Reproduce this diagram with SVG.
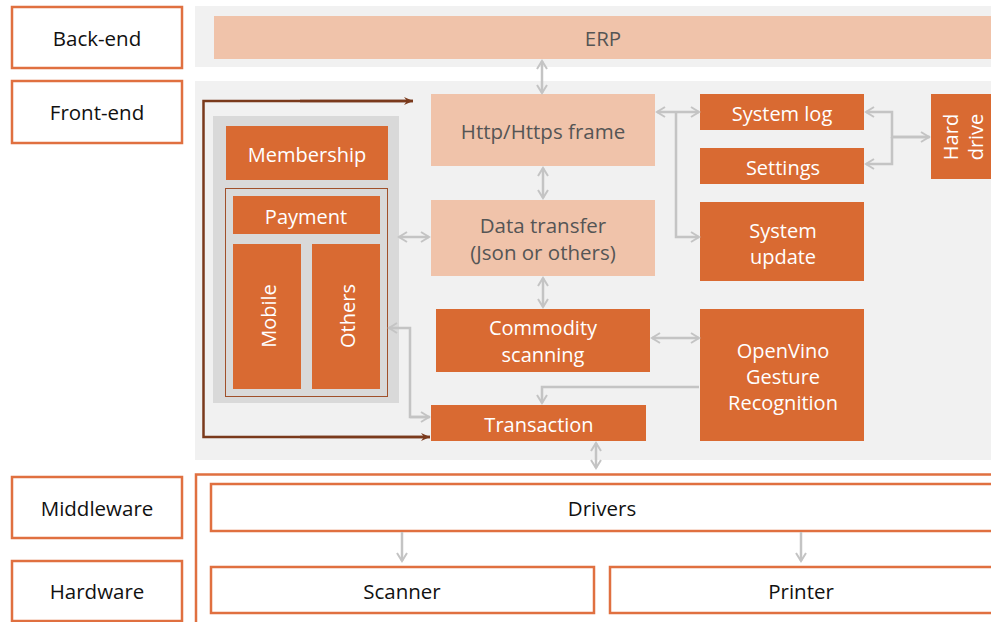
<svg xmlns="http://www.w3.org/2000/svg" width="991" height="622" viewBox="0 0 991 622">
<defs>
<marker id="ag" markerWidth="12" markerHeight="12" refX="9" refY="6" orient="auto-start-reverse" markerUnits="userSpaceOnUse">
<path d="M1,1 L9,6 L1,11" fill="none" stroke="#c4c4c4" stroke-width="2"/>
</marker>
<marker id="ab" markerWidth="12" markerHeight="10" refX="10" refY="5" orient="auto" markerUnits="userSpaceOnUse">
<path d="M1,1 L10,5 L1,9 L4,5 Z" fill="#7a3a1c"/>
</marker>
<style>
text{font-family:"Open Sans","Liberation Sans",sans-serif;text-anchor:middle;dominant-baseline:central}
.lbl{fill:#fff;stroke:#e07040;stroke-width:2.5}
.lt{font-size:20.5px;fill:#111}
.dk{fill:#d96a32}
.pe{fill:#f0c3aa}
.wt{font-size:20px;fill:#fff}
.gt{font-size:20.5px;fill:#555}
.ob{fill:#fff;stroke:#e07040;stroke-width:2.5}
.cg{fill:none;stroke:#c4c4c4;stroke-width:2.5}
</style>
</defs>
<g id="layers">
<rect class="lbl" x="12" y="7" width="170" height="61"/>
<text class="lt" x="97" y="38">Back-end</text>
<rect class="lbl" x="12" y="81" width="170" height="62"/>
<text class="lt" x="97" y="112">Front-end</text>
<rect class="lbl" x="12" y="477" width="170" height="61"/>
<text class="lt" x="97" y="508">Middleware</text>
<rect class="lbl" x="12" y="561" width="170" height="60"/>
<text class="lt" x="97" y="591">Hardware</text>
</g>
<rect x="195" y="6" width="796" height="61" fill="#f1f1f1"/>
<rect x="195" y="81" width="796" height="379" fill="#f1f1f1"/>
<g id="erp"><rect class="pe" x="214" y="16" width="777" height="43"/><text class="gt" x="603" y="38">ERP</text></g>
<g id="panel">
<rect x="213" y="116" width="186" height="287" fill="#d9d9d9"/>
</g>
<g id="membership"><rect class="dk" x="226" y="126" width="162" height="54"/><text class="wt" x="307" y="154">Membership</text></g>
<g id="payment-group"><rect x="225.5" y="188.5" width="162" height="208" fill="none" stroke="#a0502a" stroke-width="1"/></g>
<g id="payment"><rect class="dk" x="233" y="196" width="147" height="38"/><text class="wt" x="306" y="216">Payment</text></g>
<g id="mobile"><rect class="dk" x="233" y="244" width="68" height="145"/><text class="wt" transform="translate(268,316) rotate(-90)">Mobile</text></g>
<g id="others"><rect class="dk" x="312" y="244" width="68" height="145"/><text class="wt" transform="translate(347,316) rotate(-90)">Others</text></g>
<g id="http"><rect class="pe" x="431" y="94" width="224" height="72"/><text class="gt" x="543" y="131">Http/Https frame</text></g>
<g id="data"><rect class="pe" x="431" y="200" width="224" height="76"/><text class="gt" x="543" y="225">Data transfer</text><text class="gt" x="543" y="252">(Json or others)</text></g>
<g id="commodity"><rect class="dk" x="436" y="309" width="214" height="63"/><text class="wt" x="543" y="327">Commodity</text><text class="wt" x="543" y="354">scanning</text></g>
<g id="transaction"><rect class="dk" x="431" y="405" width="215" height="36"/><text class="wt" x="539" y="424">Transaction</text></g>
<g id="openvino"><rect class="dk" x="700" y="309" width="164" height="132"/><text class="wt" x="783" y="350">OpenVino</text><text class="wt" x="783" y="376">Gesture</text><text class="wt" x="783" y="402">Recognition</text></g>
<g id="syslog"><rect class="dk" x="700" y="94" width="164" height="36"/><text class="wt" x="782" y="113">System log</text></g>
<g id="settings"><rect class="dk" x="700" y="148" width="164" height="36"/><text class="wt" x="783" y="167">Settings</text></g>
<g id="sysupdate"><rect class="dk" x="700" y="202" width="164" height="79"/><text class="wt" x="783" y="230">System</text><text class="wt" x="783" y="256">update</text></g>
<g id="harddrive"><rect class="dk" x="931" y="94" width="60" height="85"/><text class="wt" transform="translate(950,137) rotate(-90)">Hard</text><text class="wt" transform="translate(975,137) rotate(-90)">drive</text></g>
<rect class="ob" x="196" y="474.5" width="800" height="150"/>
<g id="drivers"><rect class="ob" x="211" y="484" width="785" height="47"/><text class="lt" x="602" y="508">Drivers</text></g>
<g id="scanner"><rect class="ob" x="211" y="567" width="383" height="46"/><text class="lt" x="402" y="591">Scanner</text></g>
<g id="printer"><rect class="ob" x="610" y="567" width="386" height="46"/><text class="lt" x="801" y="591">Printer</text></g>
<g id="connectors">
<path d="M413,101 H203.5 V437 H430" fill="none" stroke="#7a3a1c" stroke-width="2.5"/>
<path d="M300,101 H413" fill="none" stroke="#7a3a1c" stroke-width="2.5" marker-end="url(#ab)"/>
<path d="M300,437 H430" fill="none" stroke="#7a3a1c" stroke-width="2.5" marker-end="url(#ab)"/>
<path class="cg" d="M542,61 V93" marker-start="url(#ag)" marker-end="url(#ag)"/>
<path class="cg" d="M543,168 V198" marker-start="url(#ag)" marker-end="url(#ag)"/>
<path class="cg" d="M543,278 V307" marker-start="url(#ag)" marker-end="url(#ag)"/>
<path class="cg" d="M399,237 H429" marker-start="url(#ag)" marker-end="url(#ag)"/>
<path class="cg" d="M430,417 H410 V328 H389" marker-end="url(#ag)"/>
<path class="cg" d="M410,417 H429" marker-end="url(#ag)"/>
<path class="cg" d="M652,338 H699" marker-start="url(#ag)" marker-end="url(#ag)"/>
<path class="cg" d="M699,387 H542 V403" marker-end="url(#ag)"/>
<path class="cg" d="M596,443 V468" marker-start="url(#ag)" marker-end="url(#ag)"/>
<path class="cg" d="M657,112 H699" marker-start="url(#ag)" marker-end="url(#ag)"/>
<path class="cg" d="M676,112 V237 H699" marker-end="url(#ag)"/>
<path class="cg" d="M930,137 H892 V112 H866" marker-end="url(#ag)"/>
<path class="cg" d="M892,137 V164 H866" marker-end="url(#ag)"/>
<path class="cg" d="M892,137 H929" marker-end="url(#ag)"/>
<path class="cg" d="M402,532 V561" marker-end="url(#ag)"/>
<path class="cg" d="M801,532 V561" marker-end="url(#ag)"/>
</g>
</svg>
